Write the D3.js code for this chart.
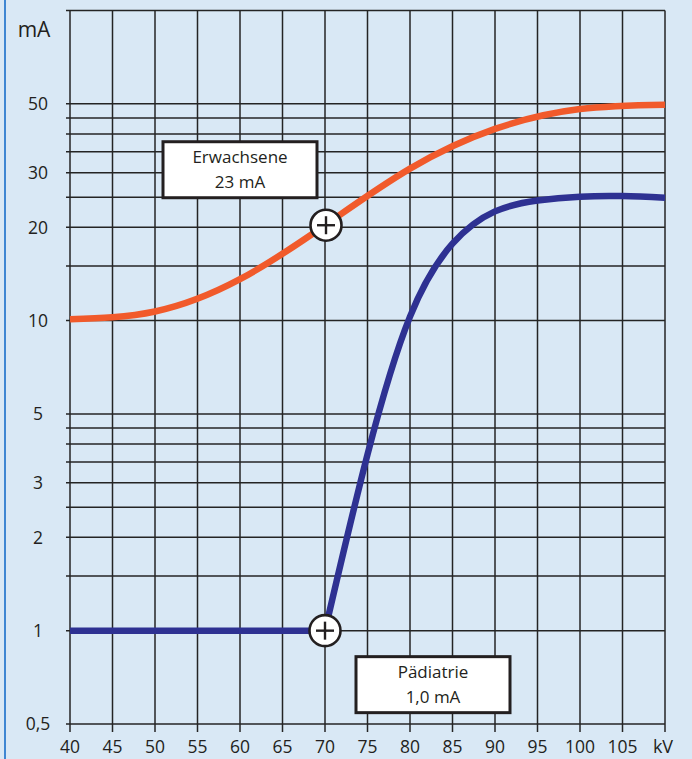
<!DOCTYPE html>
<html>
<head>
<meta charset="utf-8">
<script src="https://cdn.jsdelivr.net/npm/d3@7"></script>
<style>
  html, body { margin: 0; padding: 0; background: #d9e8f5; }
  svg { display: block; font-family: "Open Sans", "Noto Sans", sans-serif; }
</style>
</head>
<body>
<svg id="chart" width="692" height="759"></svg>
<script>
// Tube voltage (kV) against tube current (mA), log scale for current
const kvTicks = [40, 45, 50, 55, 60, 65, 70, 75, 80, 85, 90, 95, 100, 105];
const maGrid = [0.5, 1, 1.5, 2, 2.5, 3, 3.5, 4, 4.5, 5, 10, 15, 20, 25, 30, 35, 40, 45, 50, 100];
const maLabels = [0.5, 1, 2, 3, 5, 10, 20, 30, 50];

// Adult curve (Erwachsene)
const adultKv = [40, 50, 60, 70, 80, 90, 100, 110];
const adultMa = [10.1, 10.7, 13.6, 20.3, 30.9, 41.5, 48.1, 49.7];

// Paediatric curve (Pädiatrie): constant part, then the rise from 70 kV
const paedFlatKv = [40, 70];
const paedFlatMa = [1, 1];
const paedRiseKv = [70, 75, 80, 85, 90, 95, 100, 105, 110];
const paedRiseMa = [1, 3.7, 10.3, 17.7, 22.5, 24.4, 25.1, 25.2, 24.9];

// Marked operating points and their caption boxes
const markerKv = 70;
const adultCaption = ["Erwachsene", "23 mA"];
const paedCaption = ["Pädiatrie", "1,0 mA"];

const svg = d3.select("#chart");
const W = 692, H = 759;

const x = d3.scaleLinear().domain([40, 110]).range([70, 665]);
const y = d3.scaleLog().domain([0.5, 100]).range([724, 10.5]);

const gridColor = "#242424";
const ink = "#231f20";

// background and left frame stripe
svg.append("rect").attr("x", 0).attr("y", 0).attr("width", W).attr("height", H).attr("fill", "#d9e8f5");
svg.append("line").attr("x1", 5).attr("x2", 5).attr("y1", 0).attr("y2", H)
  .attr("stroke", "#3f86d2").attr("stroke-width", 2);

// horizontal grid lines (with short outward ticks on the left)
svg.append("g")
  .selectAll("line").data(maGrid).join("line")
  .attr("x1", x(40) - 4).attr("x2", x(110))
  .attr("y1", d => y(d)).attr("y2", d => y(d))
  .attr("stroke", gridColor).attr("stroke-width", 1.5);

// vertical grid lines (with short outward ticks at the bottom)
svg.append("g")
  .selectAll("line").data(kvTicks.concat([110])).join("line")
  .attr("x1", d => x(d)).attr("x2", d => x(d))
  .attr("y1", y(100)).attr("y2", y(0.5) + 8)
  .attr("stroke", gridColor).attr("stroke-width", 1.5);

// y labels
const fmt = d => String(d).replace(".", ",");
svg.append("g")
  .selectAll("text").data(maLabels).join("text")
  .attr("x", 38).attr("y", d => y(d)).attr("dy", "0.36em")
  .attr("text-anchor", "middle")
  .attr("font-size", 17.5).attr("fill", ink)
  .text(fmt);

svg.append("text").attr("x", 34).attr("y", 37).attr("text-anchor", "middle")
  .attr("font-size", 21).attr("fill", ink).text("mA");

// x labels
svg.append("g")
  .selectAll("text").data(kvTicks).join("text")
  .attr("x", d => x(d)).attr("y", 753)
  .attr("text-anchor", "middle")
  .attr("font-size", 17.5).attr("fill", ink)
  .text(d => d);
svg.append("text").attr("x", x(110) - 2).attr("y", 753).attr("text-anchor", "middle")
  .attr("font-size", 18).attr("fill", ink).text("kV");

// curves: smooth splines through the read-off points
const smooth = d3.line().curve(d3.curveNatural);
const straight = d3.line();
const pts = (ks, ms) => ks.map((k, i) => [x(k), y(ms[i])]);
svg.append("path")
  .attr("d", smooth(pts(adultKv, adultMa)))
  .attr("fill", "none").attr("stroke", "#f15a2b").attr("stroke-width", 6.5);
svg.append("path")
  .attr("d", straight(pts(paedFlatKv, paedFlatMa)) + smooth(pts(paedRiseKv, paedRiseMa)))
  .attr("fill", "none").attr("stroke", "#2e3192").attr("stroke-width", 6.5);

// markers
function marker(cx, cy) {
  const g = svg.append("g").attr("transform", `translate(${cx},${cy})`);
  g.append("circle").attr("r", 15.5).attr("fill", "#fff").attr("stroke", ink).attr("stroke-width", 2.6);
  g.append("line").attr("x1", -9).attr("x2", 9).attr("stroke", ink).attr("stroke-width", 2.4);
  g.append("line").attr("y1", -9).attr("y2", 9).attr("stroke", ink).attr("stroke-width", 2.4);
}
const adultAt = adultMa[adultKv.indexOf(markerKv)];
const paedAt = paedRiseMa[paedRiseKv.indexOf(markerKv)];
marker(x(markerKv) + 1, y(adultAt));
marker(x(markerKv), y(paedAt));

// caption boxes
function caption(cx, cy, lines) {
  const g = svg.append("g").attr("transform", `translate(${cx},${cy})`);
  g.append("rect").attr("x", -77).attr("y", -27.5).attr("width", 154).attr("height", 56)
    .attr("fill", "#fff").attr("stroke", ink).attr("stroke-width", 3);
  g.append("text").attr("y", -6).attr("text-anchor", "middle").attr("font-size", 17)
    .attr("fill", ink).text(lines[0]);
  g.append("text").attr("y", 19).attr("text-anchor", "middle").attr("font-size", 17)
    .attr("fill", ink).text(lines[1]);
}
caption(x(markerKv) - 85, y(adultAt) - 56, adultCaption);
caption(x(markerKv) + 108, y(paedAt) + 53.5, paedCaption);
</script>
</body>
</html>
